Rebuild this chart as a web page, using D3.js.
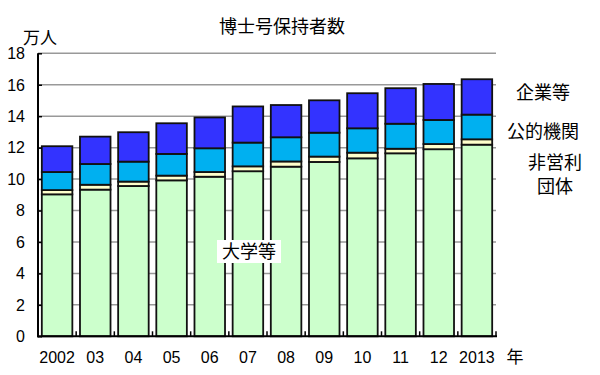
<!DOCTYPE html>
<html><head><meta charset="utf-8">
<script src="https://cdn.jsdelivr.net/npm/d3@7"></script>
<style>body{margin:0;background:#fff}svg{display:block}</style>
</head><body>
<script>
const years = ["2002","03","04","05","06","07","08","09","10","11","12","2013"];
const university = [9.03, 9.33, 9.56, 9.92, 10.15, 10.50, 10.79, 11.09, 11.32, 11.64, 11.90, 12.19];
const nonprofit  = [0.27, 0.31, 0.28, 0.30, 0.30, 0.31, 0.33, 0.34, 0.36, 0.29, 0.33, 0.34];
const publicOrg  = [1.15, 1.32, 1.27, 1.38, 1.51, 1.51, 1.54, 1.52, 1.55, 1.59, 1.53, 1.57];
const company    = [1.64, 1.74, 1.87, 1.95, 1.96, 2.30, 2.05, 2.06, 2.23, 2.26, 2.29, 2.25];
const seriesNames = ["大学等","非営利団体","公的機関","企業等"];
const yTicks = [0,2,4,6,8,10,12,14,16,18];

const W=600,H=375;
const svg=d3.select("body").append("svg").attr("width",W).attr("height",H);
const x=d3.scaleBand().domain(years).range([38,496]).paddingInner(0.2).paddingOuter(0.1);
const y=d3.scaleLinear().domain([0,18]).range([336.3,53.3]);
const numFont="'Liberation Sans', Arial, sans-serif";
const jpFont="'Noto Sans CJK JP', sans-serif";

// gridlines
svg.append("g").selectAll("line").data(yTicks.filter(d=>d>0)).join("line")
  .attr("x1",38).attr("x2",496).attr("y1",d=>y(d)).attr("y2",d=>y(d))
  .attr("stroke","#999").attr("stroke-width",1.5);

const data=years.map((yr,i)=>({year:yr,"大学等":university[i],"非営利団体":nonprofit[i],"公的機関":publicOrg[i],"企業等":company[i]}));
const stack=d3.stack().keys(seriesNames)(data);
const colors={"大学等":"#ccffcc","非営利団体":"#ffffcc","公的機関":"#00b0f0","企業等":"#3333ff"};

svg.append("g").selectAll("g").data(stack).join("g")
  .attr("fill",d=>colors[d.key])
  .selectAll("rect").data(d=>d).join("rect")
  .attr("x",d=>x(d.data.year)).attr("width",x.bandwidth())
  .attr("y",d=>y(d[1])).attr("height",d=>y(d[0])-y(d[1]))
  .attr("stroke","#111").attr("stroke-width",1.8);

// y axis
const ya=svg.append("g").attr("transform","translate(38,0)")
  .call(d3.axisRight(y).tickValues(yTicks).tickSize(4).tickFormat(""));
ya.select(".domain").remove();
ya.selectAll("line").attr("stroke","#000").attr("stroke-width",1.5);
svg.append("line").attr("x1",38).attr("x2",38).attr("y1",y(18)).attr("y2",y(0)+1).attr("stroke","#000").attr("stroke-width",2);
svg.append("g").selectAll("text").data(yTicks).join("text")
  .attr("x",25).attr("y",d=>y(d)).attr("dy","0.36em").attr("text-anchor","end")
  .attr("font-family",numFont).attr("font-size",16).text(d=>d);

// x axis
const step=x.step();
const bounds=years.map((d,i)=>x(d)+x.bandwidth()+ (step-x.bandwidth())/2);
svg.append("g").selectAll("line").data(bounds).join("line")
  .attr("x1",d=>d).attr("x2",d=>d).attr("y1",y(0)).attr("y2",y(0)-5)
  .attr("stroke","#000").attr("stroke-width",1.5);
svg.append("line").attr("x1",37).attr("x2",497).attr("y1",y(0)).attr("y2",y(0)).attr("stroke","#000").attr("stroke-width",2);
svg.append("g").selectAll("text").data(years).join("text")
  .attr("x",d=>x(d)+x.bandwidth()/2).attr("y",357).attr("dy","0.36em").attr("text-anchor","middle")
  .attr("font-family",numFont).attr("font-size",16).text(d=>d);
svg.append("text").attr("x",515).attr("y",357).attr("dy","0.36em").attr("text-anchor","middle")
  .attr("font-family",jpFont).attr("font-size",17).text("年");

// title & unit
svg.append("text").attr("x",282).attr("y",27).attr("dy","0.36em").attr("text-anchor","middle")
  .attr("font-family",jpFont).attr("font-size",18).text("博士号保持者数");
svg.append("text").attr("x",40).attr("y",38).attr("dy","0.36em").attr("text-anchor","middle")
  .attr("font-family",jpFont).attr("font-size",17).text("万人");

// 大学等 label
svg.append("rect").attr("x",217).attr("y",240).attr("width",64).attr("height",23).attr("fill","#fff");
svg.append("text").attr("x",249).attr("y",252).attr("dy","0.36em").attr("text-anchor","middle")
  .attr("font-family",jpFont).attr("font-size",18).text("大学等");

// right legend labels
const legend=[{t:"企業等",x:543,y:93},{t:"公的機関",x:543,y:132},{t:"非営利",x:555,y:163},{t:"団体",x:555,y:187}];
svg.append("g").selectAll("text").data(legend).join("text")
  .attr("x",d=>d.x).attr("y",d=>d.y).attr("dy","0.36em").attr("text-anchor","middle")
  .attr("font-family",jpFont).attr("font-size",18).text(d=>d.t);
</script>
</body></html>
